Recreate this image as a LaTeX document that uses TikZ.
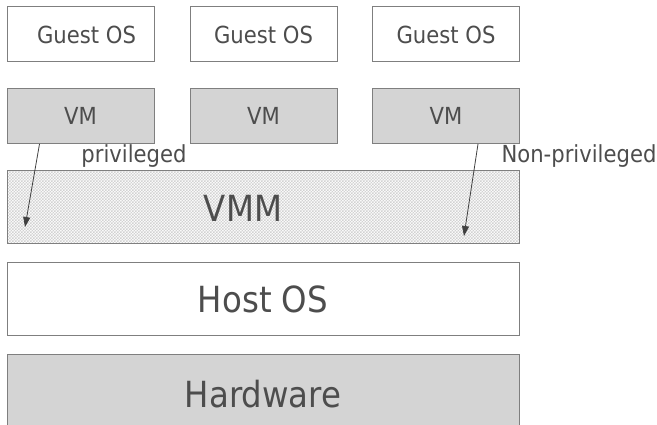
\documentclass[tikz,border=0pt]{standalone}
\usepackage{fontspec}
\setmainfont{DejaVu Sans}[FakeStretch=0.9]
\usetikzlibrary{patterns,arrows.meta,calc}
\pgfdeclarepatternformonly{finechecker}{\pgfqpoint{-.1pt}{-.1pt}}{\pgfqpoint{3.1pt}{3.1pt}}{\pgfqpoint{3pt}{3pt}}{%
  \pgfpathrectangle{\pgfqpoint{0pt}{0pt}}{\pgfqpoint{1.5pt}{1.5pt}}%
  \pgfpathrectangle{\pgfqpoint{1.5pt}{1.5pt}}{\pgfqpoint{1.5pt}{1.5pt}}%
  \pgfusepath{fill}}
\definecolor{txt}{HTML}{4D4D4D}
\definecolor{bord}{HTML}{7F7F7F}
\definecolor{boxfill}{HTML}{D4D4D4}
\definecolor{arrc}{HTML}{404040}
\tikzset{
  layer/.style={draw=bord, line width=1pt, rectangle, inner sep=0pt, text=txt},
  smallbox/.style={layer, minimum width=147pt, minimum height=55pt, font=\fontsize{23.5}{28}\selectfont},
  bigbox/.style={layer, minimum width=512pt, minimum height=73pt, font=\fontsize{36}{42}\selectfont},
  grayfill/.style={fill=boxfill},
  lbl/.style={text=txt, inner sep=0pt, font=\fontsize{23.5}{28}\selectfont},
  arr/.style={draw=arrc, line width=0.8pt, -{Triangle[length=10pt,width=7pt]}}
}
\begin{document}
\begin{tikzpicture}[x=1pt,y=-1pt]
\useasboundingbox (0,0) rectangle (657,425);
\clip (0,0) rectangle (657,425);
% guest OS row
\node[smallbox, fill=white] (g1) at (80.5,34.5) {\hspace{12pt}Guest OS};
\node[smallbox, fill=white] (g2) at (263.5,34.5) {Guest OS\hspace{6pt}};
\node[smallbox, fill=white] (g3) at (446,34.5) {Guest OS\hspace{6pt}};
% VM row
\node[smallbox, grayfill] (vm1) at (80.5,116) {VM};
\node[smallbox, grayfill] (vm2) at (263.5,116) {VM};
\node[smallbox, grayfill] (vm3) at (446,116) {VM};
% layers
\node[bigbox, pattern=finechecker, pattern color=gray!35] (vmm) at (263,207.5) {};
\node[text=txt, font=\fontsize{36}{42}\selectfont, inner sep=0pt] (vmmt) at (243,208) {VMM};
\node[bigbox, fill=white] (host) at (263,299.5) {Host OS};
\node[bigbox, grayfill, minimum height=80pt] (hw) at (263,394) {Hardware};
% labels
\node[lbl] (priv) at (134,156.5) {privileged};
\node[lbl] (npriv) at (579,156.5) {Non-privileged};
% arrows
\coordinate (p1) at (25,227);
\coordinate (p2) at (464,236);
\draw[arr] ($(vm1.south west)+(33,0)$) -- (p1);
\draw[arr] ($(vm3.south west)+(106,0)$) -- (p2);
\end{tikzpicture}
\end{document}
